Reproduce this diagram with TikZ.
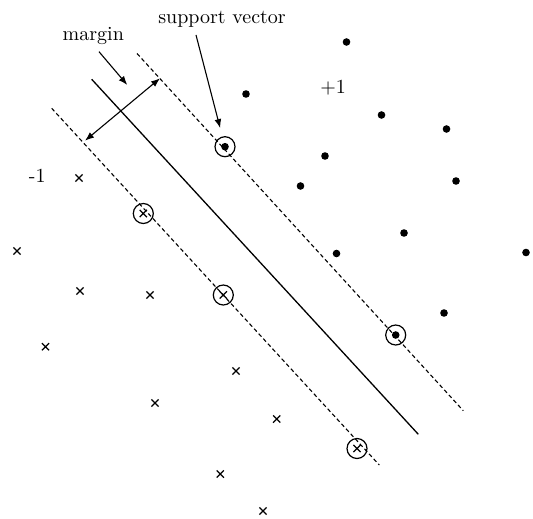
\documentclass[tikz,border=0pt]{standalone}
\usetikzlibrary{shapes.misc,arrows.meta}
\begin{document}
\begin{tikzpicture}[x=0.5pt,y=-0.5pt,
  dotnode/.style={circle,fill=black,inner sep=0pt,minimum size=3.8pt},
  crossnode/.style={cross out,draw=black,line width=0.6pt,inner sep=0pt,minimum size=3pt},
  ring/.style={circle,draw=black,line width=0.6pt,inner sep=0pt,minimum size=10pt},
  sepline/.style={line width=0.65pt},
  marginline/.style={line width=0.55pt,dash pattern=on 2pt off 1.4pt},
  arr/.style={line width=0.55pt,-{Latex[length=4.5pt,width=3.4pt]}},
  darr/.style={line width=0.55pt,{Latex[length=4.5pt,width=3.4pt]}-{Latex[length=4.5pt,width=3.4pt]}},
  lbl/.style={anchor=base,inner sep=0pt}]
\useasboundingbox (0,0) rectangle (533,518);

% lines
\coordinate (s1) at (91.7,79.3);  \coordinate (s2) at (418.3,434.3);
\coordinate (u1) at (137,53.5);   \coordinate (u2) at (463.3,410.7);
\coordinate (l1) at (51.7,108.3); \coordinate (l2) at (379.3,465);
\draw[sepline] (s1) -- (s2);
\draw[marginline] (u1) -- (u2);
\draw[marginline] (l1) -- (l2);

% positive points
\foreach \p [count=\i] in {(346.5,42),(246,94),(381.5,115),(446.5,129),(325,156),(456,181),(300.5,186),(404,233),(336.5,253.5),(526,252.5),(444,313)}
  \node[dotnode] (pos\i) at \p {};
% negative points
\foreach \p [count=\i] in {(79,178),(17,251),(80,291),(150,295),(45.5,346.7),(236,371),(155,403),(276.7,419),(220.3,474),(263,511)}
  \node[crossnode] (neg\i) at \p {};

% support vectors
\node[ring] (sv1) at (225,146.7) {};
\node[dotnode] (svd1) at (sv1) {};
\node[ring] (sv2) at (395.7,335) {};
\node[dotnode] (svd2) at (sv2) {};
\node[ring] (sv3) at (143.3,213.5) {};
\node[crossnode] (svc3) at (sv3) {};
\node[ring] (sv4) at (223.3,295) {};
\node[crossnode] (svc4) at (sv4) {};
\node[ring] (sv5) at (357,448.5) {};
\node[crossnode] (svc5) at (sv5) {};

% labels
\node[lbl] (svlabel) at (222,24) {support vector};
\node[lbl] (mlabel) at (93.3,40.7) {margin};
\node[lbl] (neglabel) at (37.2,182.7) {-1};
\node[lbl] (poslabel) at (333.2,93.7) {+1};

% arrows
\coordinate (svstart) at (196,35);
\draw[arr,shorten >=9.6pt] (svstart) -- (sv1.center);
\coordinate (mstart) at (99,51.7);
\coordinate (mend) at (127.3,85);
\draw[arr] (mstart) -- (mend);
\coordinate (ma) at (85,140.7);
\coordinate (mb) at (160,78.3);
\draw[darr] (ma) -- (mb);
\end{tikzpicture}
\end{document}
